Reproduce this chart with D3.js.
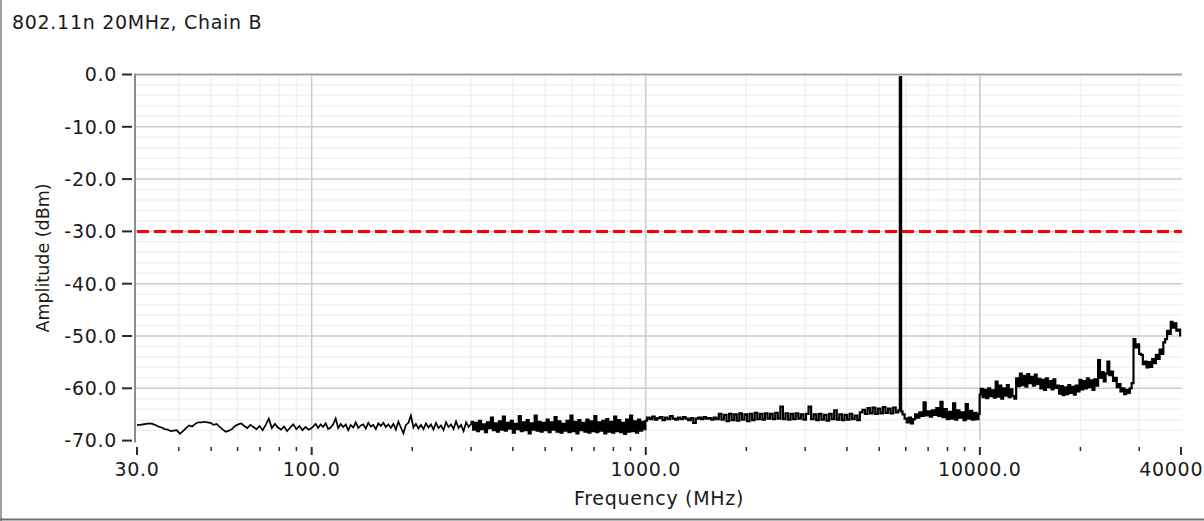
<!DOCTYPE html>
<html>
<head>
<meta charset="utf-8">
<script src="https://cdn.jsdelivr.net/npm/d3@7"></script>
<style>
  html, body { margin: 0; padding: 0; background: #ffffff; }
  svg { display: block; }
  text { font-family: "DejaVu Sans", Tahoma, sans-serif; fill: #1a1a1a; }
</style>
</head>
<body>
<svg id="chart" width="1204" height="521"></svg>
<script>
// ---------------- data ----------------
const title = "802.11n 20MHz, Chain B";
const xLabel = "Frequency (MHz)";
const yLabel = "Amplitude (dBm)";

const xMajorTicks = [30, 100, 1000, 10000, 40000];
const xMajorLabels = ["30.0", "100.0", "1000.0", "10000.0", "40000.0"];
const xGridMajor = [100, 1000, 10000];
const xMinorTicks = [40, 50, 60, 70, 80, 90, 200, 300, 400, 500, 600, 700, 800, 900,
  2000, 3000, 4000, 5000, 6000, 7000, 8000, 9000, 20000, 30000];
const yMajorTicks = [0, -10, -20, -30, -40, -50, -60, -70];
const yMajorLabels = ["0.0", "-10.0", "-20.0", "-30.0", "-40.0", "-50.0", "-60.0", "-70.0"];
const yMinorTicks = [-2, -4, -6, -8, -12, -14, -16, -18, -22, -24, -26, -28, -32, -34, -36, -38,
  -42, -44, -46, -48, -52, -54, -56, -58, -62, -64, -66, -68];

const limitDbm = -30;

// trace, sweep segments (start MHz, stop MHz) with readings in dBm
const segA = [30, 100];
const valsA = [-67.0,-67.0,-66.9,-66.8,-66.7,-66.8,-67.0,-67.3,-67.5,-67.8,-67.9,-68.2,-68.1,-68.0,-68.7,
  -68.2,-67.6,-67.1,-67.3,-66.8,-66.5,-66.5,-66.4,-66.5,-66.6,-67.0,-66.8,-67.4,-67.9,-68.3,-68.1,-67.8,
  -67.2,-66.9,-66.7,-67.2,-67.6,-67.0,-67.4,-67.8,-67.2,-68.0,-67.0,-65.8,-67.6,-66.8,-67.5,-67.9,-67.3,
  -68.2,-67.5,-66.9,-67.8,-67.2,-68.0,-67.4,-67.9,-67.6];
const segB = [101, 300];
const valsB = [-67.3,-66.8,-67.6,-66.9,-67.4,-66.7,-67.8,-67.5,-66.9,-65.8,-67.6,-66.8,-67.4,-66.9,-68.0,
  -67.0,-67.5,-66.5,-67.6,-67.1,-66.9,-67.7,-66.6,-67.3,-67.0,-67.8,-66.7,-67.2,-66.6,-67.4,-66.9,-67.6,
  -66.8,-67.9,-66.4,-67.5,-68.6,-67.0,-66.6,-65.2,-67.5,-66.8,-67.7,-67.0,-67.8,-66.7,-67.5,-66.9,-67.9,
  -66.6,-67.6,-67.1,-68.0,-66.5,-67.4,-66.9,-67.8,-66.3,-67.6,-67.0,-68.2,-66.5,-67.4,-66.8];
const segC = [302, 995];
const valsC = [-66.4,-67.9,-66.6,-68.2,-66.2,-67.8,-66.9,-68.4,-66.5,-67.6,-65.6,-68.0,-66.7,-68.3,-66.3,
  -67.9,-65.4,-68.1,-66.6,-67.7,-66.2,-68.5,-66.8,-67.8,-65.3,-68.2,-66.5,-68.0,-66.1,-68.6,-66.7,-67.9,
  -65.2,-68.1,-66.4,-68.3,-66.6,-68.0,-66.0,-68.4,-66.5,-67.9,-65.5,-68.3,-66.3,-68.5,-66.8,-68.1,-66.2,
  -68.4,-65.2,-68.2,-66.4,-68.6,-66.1,-68.0,-66.6,-68.3,-66.0,-68.5,-66.3,-68.2,-65.3,-68.4,-66.5,-68.1,
  -66.2,-68.6,-65.9,-68.3,-66.4,-68.5,-65.4,-68.2,-66.1,-68.4,-66.6,-68.7,-66.0,-68.3,-65.2,-68.2,-66.3,
  -68.5,-66.0,-68.1,-66.4,-67.8];
const segD = [1000, 5750];
const valsD = [-66.2,-65.6,-65.9,-65.4,-66.0,-65.7,-65.5,-66.1,-65.6,-65.9,-65.3,-65.8,-66.0,-65.6,-65.9,
  -65.5,-65.8,-66.1,-65.7,-66.6,-65.8,-65.6,-65.9,-65.5,-65.8,-65.7,-66.0,-65.6,-65.9,
  -64.9,-66.0,-65.1,-66.3,-64.9,-66.1,-65.0,-66.2,-64.8,-66.0,-65.0,-66.3,-64.9,-66.1,-64.7,-65.9,
  -64.9,-66.0,-64.8,-65.8,-64.9,-65.9,-64.7,-65.8,-63.5,-65.9,-64.8,-66.0,-64.9,-65.9,-64.8,-65.8,
  -65.0,-66.0,-64.9,-63.5,-65.9,-65.0,-66.1,-64.9,-66.0,-65.1,-66.2,-64.9,-65.9,-64.2,-66.0,-65.0,
  -66.1,-65.1,-66.0,-64.9,-65.9,-65.2,-66.1,-64.6,-64.1,
  -64.9,-63.8,-64.8,-63.7,-64.9,-63.9,-64.8,-63.6,-64.7,-63.9,-64.8,-63.7,-64.6,-64.2];
const spikeFreqs = [5772, 5798];
const spikeVals = [-0.6, -0.5];
const segE = [5825, 9970];
const valsE = [-64.4,-65.0,-65.8,-66.5,-65.6,-66.7,-65.9,-65.0,-65.6,-64.6,-65.3,-62.7,-65.2,-64.4,-65.4,
  -64.2,-65.1,-63.8,-65.3,-62.6,-65.5,-64.0,-65.9,-64.5,-65.8,-62.9,-66.0,-64.2,-65.6,-64.6,-66.1,-63.0,
  -65.8,-64.3,-66.0,-64.7,-65.9,-64.9];
const segF = [10000, 40000];
const valsF = [-61.2,-60.1,-61.7,-60.3,-61.9,-60.0,-61.5,-60.4,-61.8,-58.7,-61.6,-59.5,-62.0,-60.0,-61.4,
  -59.4,-61.7,-60.2,-61.5,-62.0,-58.1,-59.6,-57.2,-59.4,-57.6,-59.7,-57.3,-59.0,-57.8,-59.5,-57.4,-59.2,
  -58.2,-60.0,-58.4,-60.3,-58.1,-59.8,-58.6,-60.2,-58.3,-59.9,-59.5,-61.0,-59.6,-61.3,-59.8,-61.1,-59.4,
  -60.9,-59.7,-61.2,-59.5,-60.6,-58.4,-60.2,-58.6,-60.0,-58.1,-59.8,-58.5,-60.3,-58.3,-59.5,-54.6,-58.0,
  -56.9,-58.7,-57.2,-54.9,-57.5,-56.8,-58.6,-58.0,-59.8,-59.2,-60.6,-60.0,-61.1,-60.3,-60.9,-60.0,-59.0,
  -50.6,-52.2,-51.6,-53.4,-53.6,-55.4,-54.9,-56.0,-55.0,-55.9,-54.4,-55.2,-53.6,-54.4,-52.6,-53.4,-51.2,
  -50.6,-49.0,-49.6,-47.3,-48.4,-47.6,-49.0,-48.8,-49.9];

// ---------------- build trace points ----------------
function sweep(seg, vals) {
  const lf0 = Math.log10(seg[0]), lf1 = Math.log10(seg[1]);
  return vals.map((v, i) => ({ f: Math.pow(10, lf0 + (lf1 - lf0) * i / (vals.length - 1)), v }));
}
const lowTrace = [].concat(sweep(segA, valsA), sweep(segB, valsB));
const bandTrace = [].concat(
  lowTrace.slice(-1),
  sweep(segC, valsC), sweep(segD, valsD),
  spikeFreqs.map((f, i) => ({ f, v: spikeVals[i] })),
  sweep(segE, valsE), sweep(segF, valsF)
);

// ---------------- layout ----------------
const svg = d3.select("#chart");
const W = 1204, H = 521;
const plot = { left: 137, right: 1181, top: 74.5, bottom: 440.6 };
const FS = 19, LS = 0.7;

const x = d3.scaleLog().domain([30, 40000]).range([plot.left, plot.right]);
const y = d3.scaleLinear().domain([-70, 0]).range([plot.bottom, plot.top]);

svg.append("rect").attr("width", W).attr("height", H).attr("fill", "#ffffff");

// outer frame
svg.append("line").attr("x1", 1).attr("x2", 1).attr("y1", 0).attr("y2", H)
  .attr("stroke", "#a0a0a0").attr("stroke-width", 2);
svg.append("line").attr("x1", 0).attr("x2", W).attr("y1", 519.5).attr("y2", 519.5)
  .attr("stroke", "#6e6e6e").attr("stroke-width", 2);

// title
svg.append("text").attr("x", 12).attr("y", 29).attr("font-size", FS)
  .attr("letter-spacing", LS).text(title);

// minor grid
const grid = svg.append("g");
grid.selectAll(".ymin").data(yMinorTicks).join("line")
  .attr("x1", plot.left - 2).attr("x2", plot.right + 1)
  .attr("y1", d => y(d)).attr("y2", d => y(d))
  .attr("stroke", "#f1f1f1").attr("stroke-width", 1.5);
grid.selectAll(".xmin").data(xMinorTicks).join("line")
  .attr("x1", d => x(d)).attr("x2", d => x(d))
  .attr("y1", plot.top).attr("y2", plot.bottom)
  .attr("stroke", "#f1f1f1").attr("stroke-width", 1.5);
// major grid
grid.selectAll(".ymaj").data(yMajorTicks.filter(d => d !== 0 && d !== -70)).join("line")
  .attr("x1", plot.left - 2).attr("x2", plot.right + 1)
  .attr("y1", d => y(d)).attr("y2", d => y(d))
  .attr("stroke", "#cbcbcb").attr("stroke-width", 1.5);
grid.selectAll(".xmaj").data(xGridMajor).join("line")
  .attr("x1", d => x(d)).attr("x2", d => x(d))
  .attr("y1", plot.top).attr("y2", plot.bottom)
  .attr("stroke", "#cbcbcb").attr("stroke-width", 1.5);
// top border line
svg.append("line").attr("x1", plot.left - 2).attr("x2", plot.right + 1)
  .attr("y1", y(0)).attr("y2", y(0)).attr("stroke", "#a4a4a4").attr("stroke-width", 2);
// left axis line
svg.append("line").attr("x1", plot.left - 2).attr("x2", plot.left - 2)
  .attr("y1", y(0) - 1).attr("y2", y(-70) + 2).attr("stroke", "#8c8c8c").attr("stroke-width", 2);

// y axis ticks + labels
const yAxis = svg.append("g");
yAxis.selectAll("line").data(yMajorTicks).join("line")
  .attr("x1", 122).attr("x2", 132)
  .attr("y1", d => y(d)).attr("y2", d => y(d))
  .attr("stroke", "#2a2a2a").attr("stroke-width", 2);
yAxis.selectAll("text").data(yMajorTicks).join("text")
  .attr("x", 117).attr("y", d => y(d)).attr("dy", "0.36em")
  .attr("text-anchor", "end").attr("font-size", FS).attr("letter-spacing", LS)
  .text((d, i) => yMajorLabels[i]);

// x axis ticks + labels
const xAxis = svg.append("g");
xAxis.selectAll(".tmin").data(xMinorTicks).join("line")
  .attr("x1", d => x(d)).attr("x2", d => x(d))
  .attr("y1", 447).attr("y2", 451)
  .attr("stroke", "#2a2a2a").attr("stroke-width", 1.5);
xAxis.selectAll(".tmaj").data(xMajorTicks).join("line")
  .attr("x1", d => x(d)).attr("x2", d => x(d))
  .attr("y1", 447).attr("y2", 455)
  .attr("stroke", "#2a2a2a").attr("stroke-width", 2);
xAxis.selectAll("text").data(xMajorTicks).join("text")
  .attr("x", d => x(d)).attr("y", 476)
  .attr("text-anchor", "middle").attr("font-size", FS).attr("letter-spacing", LS)
  .text((d, i) => xMajorLabels[i]);

// axis titles
svg.append("text").attr("x", 659).attr("y", 505).attr("text-anchor", "middle")
  .attr("font-size", FS).attr("letter-spacing", LS).text(xLabel);
svg.append("text").attr("transform", "translate(49,258) rotate(-90)")
  .attr("text-anchor", "middle").attr("font-size", 17.5).text(yLabel);

// limit line
svg.append("line").attr("x1", plot.left).attr("x2", plot.right + 1)
  .attr("y1", y(limitDbm)).attr("y2", y(limitDbm))
  .attr("stroke", "#ff0000").attr("stroke-width", 3).attr("stroke-dasharray", "12,5");

// trace
const lineLin = d3.line().x(d => x(d.f)).y(d => y(d.v));
const lineStep = d3.line().curve(d3.curveStep).x(d => x(d.f)).y(d => y(d.v));
svg.append("path").datum(lowTrace).attr("d", lineLin)
  .attr("fill", "none").attr("stroke", "#000000").attr("stroke-width", 1.7);
svg.append("path").datum(bandTrace).attr("d", lineStep)
  .attr("fill", "none").attr("stroke", "#000000").attr("stroke-width", 2.2);
</script>
</body>
</html>
